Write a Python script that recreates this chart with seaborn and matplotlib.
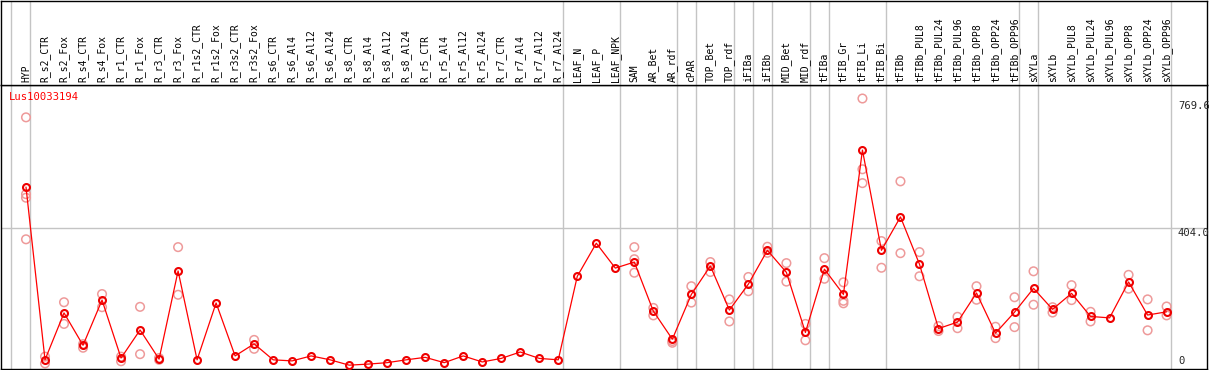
import numpy as np
import pandas as pd
import matplotlib as mpl
mpl.use("Agg")
import matplotlib.pyplot as plt
import seaborn as sns

# column labels (one per sample)
labels = [
    "HYP",
    "R_s2_CTR", "R_s2_Fox", "R_s4_CTR", "R_s4_Fox", "R_r1_CTR", "R_r1_Fox",
    "R_r3_CTR", "R_r3_Fox", "R_r1s2_CTR", "R_r1s2_Fox", "R_r3s2_CTR", "R_r3s2_Fox",
    "R_s6_CTR", "R_s6_Al4", "R_s6_Al12", "R_s6_Al24",
    "R_s8_CTR", "R_s8_Al4", "R_s8_Al12", "R_s8_Al24",
    "R_r5_CTR", "R_r5_Al4", "R_r5_Al12", "R_r5_Al24",
    "R_r7_CTR", "R_r7_Al4", "R_r7_Al12", "R_r7_Al24",
    "LEAF_N", "LEAF_P", "LEAF_NPK",
    "SAM", "AR_Bet", "AR_rdf",
    "cPAR",
    "TOP_Bet", "TOP_rdf",
    "iFIBa",
    "iFIBb",
    "MID_Bet", "MID_rdf",
    "tFIBa",
    "tFIB_Gr", "tFIB_Li", "tFIB_Bi",
    "tFIBb", "tFIBb_PUL8", "tFIBb_PUL24", "tFIBb_PUL96",
    "tFIBb_OPP8", "tFIBb_OPP24", "tFIBb_OPP96",
    "sXYLa",
    "sXYLb", "sXYLb_PUL8", "sXYLb_PUL24", "sXYLb_PUL96",
    "sXYLb_OPP8", "sXYLb_OPP24", "sXYLb_OPP96",
]

# how many columns sit between two grey separators
group_sizes = [1, 28, 3, 3, 1, 2, 1, 1, 2, 1, 3, 7, 1, 7]

# mean expression per column
means = [
    520, 34, 166, 75, 202, 39, 118, 36, 284, 34, 194, 45, 79, 34, 31,
    45, 34, 19, 22, 26, 34, 41, 26, 45, 28, 38, 56, 38, 34,
    269, 362, 292,
    309, 171, 92,
    218,
    298, 174,
    247,
    342,
    280, 111,
    289,
    218, 624, 342,
    436, 303, 122, 140, 222, 109, 168,
    235,
    176, 221, 156, 152, 253, 160, 169,
]

# single replicates (pale circles), empty where they hide behind the mean
reps = [
    [716, 500, 490, 373], [43, 24], [196, 135], [78, 68], [219, 182],
    [43, 30], [183, 50], [39, 34], [351, 217], [], [], [], [90, 65], [], [],
    [], [], [], [], [], [], [], [], [], [], [], [], [], [],
    [], [], [],
    [351, 317, 279], [180, 159], [87, 82],
    [241, 195],
    [309, 281], [204, 142],
    [267, 227],
    [352, 335],
    [306, 254], [135, 89],
    [320, 262],
    [252, 200, 193], [769, 570, 531], [368, 293],
    [536, 334], [337, 269], [129, 115], [155, 123], [241, 203], [127, 95], [210, 126],
    [283, 189],
    [182, 167], [244, 202], [169, 142], [], [273, 234], [204, 117], [184, 159],
]

gene = "Lus10033194"
ytick_labels = ["769.6", "404.0", "0"]
grid_value = 404.0
top_value = 769.6

pos = np.arange(len(labels))
mean_df = pd.DataFrame({"pos": pos, "val": means})
rep_df = pd.DataFrame(
    [(i, v) for i, vals in enumerate(reps) for v in vals], columns=["pos", "val"]
)
# separators sit just right of the last label of each group (and one before the first)
bounds = np.concatenate([[-1], np.cumsum(group_sizes) - 1]) + 0.235

sns.set_style("white")
plt.rcParams["font.family"] = ["DejaVu Sans Mono", "DejaVu Sans"]

W, H = 1209, 370
fig = plt.figure(figsize=(W / 100, H / 100), dpi=100)
left = 1 / W
width = 1206 / W
ax = fig.add_axes([left, 1 / H, width, 284 / H])
axh = fig.add_axes([left, 1 - 84.6 / H, width, 84.1 / H], sharex=ax)

ax.set_xlim(-1.315, 62.125)
ax.set_ylim(8.2, 807)
axh.set_ylim(0, 1)

grey = "#c4c4c4"
for b in bounds:
    ax.axvline(b, color=grey, lw=1, zorder=1)
    axh.axvline(b, color=grey, lw=1, zorder=1)
ax.axhline(grid_value, color=grey, lw=1, zorder=1)

pink = "#ee9a9a"
sns.scatterplot(data=rep_df, x="pos", y="val", ax=ax, marker="o", s=38,
                facecolor="none", edgecolor=pink, linewidth=1.1, zorder=2)
sns.lineplot(data=mean_df, x="pos", y="val", ax=ax, color="#ff0000",
             linewidth=0.9, marker="o", markersize=5.0, markerfacecolor="none",
             markeredgecolor="#ee0000", markeredgewidth=1.5, errorbar=None,
             zorder=3)

# header labels
for i, lab in enumerate(labels):
    axh.text(i, 0.025, lab, rotation=90, ha="center", va="bottom",
             fontsize=7, color="black")

ax.text(0.0069, 0.977, gene, transform=ax.transAxes, color="red",
        fontsize=7.6, ha="left", va="top")

# value labels on the right
xl = 0.9759
ax.annotate(ytick_labels[0], xy=(xl, top_value), xycoords=("axes fraction", "data"),
            xytext=(0, -3), textcoords="offset pixels", fontsize=7.6,
            ha="left", va="top", annotation_clip=False)
ax.annotate(ytick_labels[1], xy=(xl, grid_value), xycoords=("axes fraction", "data"),
            xytext=(0, 0), textcoords="offset pixels", fontsize=7.6,
            ha="left", va="top")
ax.text(xl, 0.012, ytick_labels[2], transform=ax.transAxes, fontsize=7.6,
        ha="left", va="bottom")

for a in (ax, axh):
    a.set_xticks([])
    a.set_yticks([])
    a.set_xlabel("")
    a.set_ylabel("")
    for s in a.spines.values():
        s.set_visible(True)
        s.set_color("black")
        s.set_linewidth(1.0)

fig.savefig("out.png", dpi=100)
